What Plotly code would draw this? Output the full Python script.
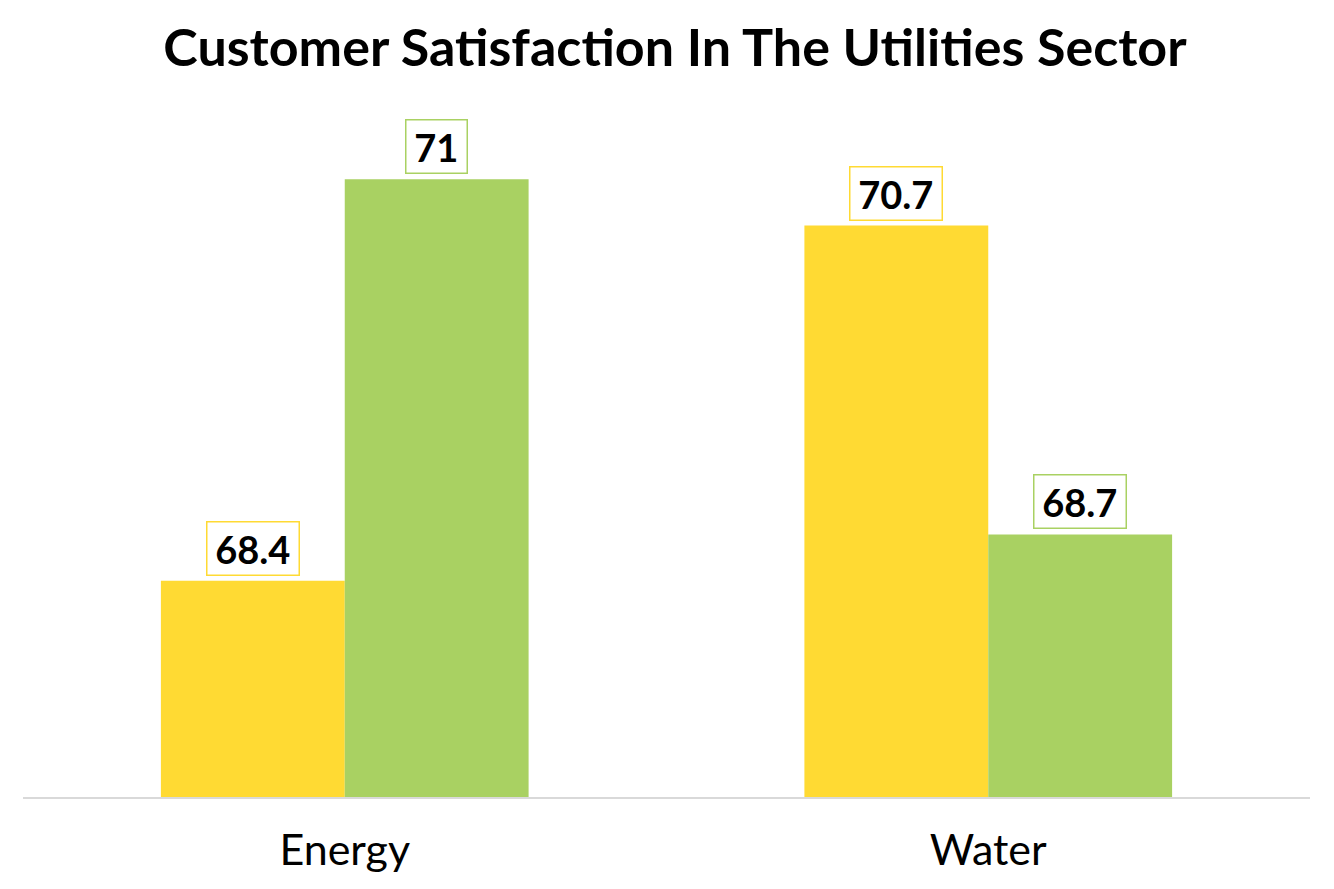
import plotly.graph_objects as go

categories = ["Energy", "Water"]
series_a = [68.4, 70.7]   # yellow series
series_b = [71, 68.7]     # green series
title_text = "Customer Satisfaction In The Utilities Sector"

YELLOW = "#FFDA33"
GREEN = "#A9D162"
FONT = "Century Gothic, Lato, sans-serif"

fig = go.Figure()
fig.add_trace(go.Bar(x=categories, y=series_a, marker_color=YELLOW, marker_line_width=0, name="A"))
fig.add_trace(go.Bar(x=categories, y=series_b, marker_color=GREEN, marker_line_width=0, name="B"))

W, H = 1334, 889
ml, mr, mt, mb = 15, 32, 94, 100
plot_w = W - ml - mr
cat_w = plot_w / len(categories)
bargap = 0.4286
bar_w = cat_w * (1 - bargap) / 2

for vals, col, sign in [(series_a, YELLOW, -1), (series_b, GREEN, 1)]:
    for c, v in zip(categories, vals):
        fig.add_annotation(
            x=c, y=v, xref="x", yref="y",
            text=f"&#8201;<b>{v:g}</b>&#8201;", showarrow=False,
            xshift=sign * bar_w / 2, yshift=5, yanchor="bottom",
            font=dict(family=FONT, size=38, color="black"),
            bordercolor=col, borderwidth=1.5, borderpad=3, bgcolor="white",
        )

fig.update_layout(
    width=W, height=H,
    margin=dict(l=ml, r=mr, t=mt, b=mb),
    barmode="group", bargap=bargap, bargroupgap=0,
    plot_bgcolor="white", paper_bgcolor="white",
    showlegend=False,
    title=dict(text=f"<b>{title_text}</b>", x=0.5, xanchor="center", y=0.955, yanchor="middle",
               font=dict(family=FONT, size=52, color="black")),
    xaxis=dict(showgrid=False, showline=True, linecolor="#D9D9D9", linewidth=2,
               ticks="", ticklabelstandoff=14, tickfont=dict(family=FONT, size=43, color="black")),
    yaxis=dict(range=[67, 71.5], visible=False, showgrid=False),
)

fig.write_html("out.html")
